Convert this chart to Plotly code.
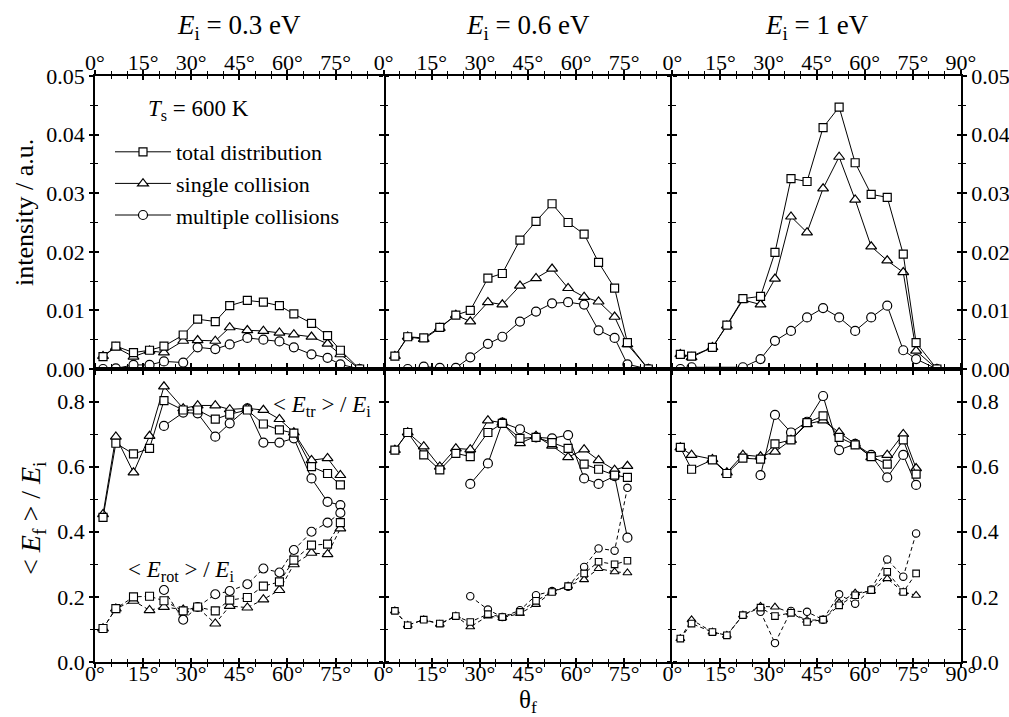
import plotly.graph_objects as go
from plotly.subplots import make_subplots

# ---------------- data ----------------
col_titles = ["<i>E</i><sub>i</sub> = 0.3 eV", "<i>E</i><sub>i</sub> = 0.6 eV", "<i>E</i><sub>i</sub> = 1 eV"]
series_names = ["total distribution", "single collision", "multiple collisions"]

theta_03 = [2.5, 6.5, 12, 17, 21.5, 27.5, 32, 37.5, 42, 47.5, 52.5, 57.5, 62, 67.5, 72.5, 76.5, 82.5]
theta_06 = [3.5, 7.5, 12.5, 17.5, 22.5, 27, 32.5, 37, 42.5, 47.5, 52.5, 57.5, 62.5, 67, 72, 76, 82.5]
theta_1 = [2.5, 6, 12.5, 17, 22, 27.5, 32, 37, 42, 47, 52, 57, 62, 67, 72, 76, 82.5]

# intensity (a.u.)
I_tot_03 = [0.0021, 0.0039, 0.0028, 0.0032, 0.0039, 0.0058, 0.0085, 0.0081, 0.0108, 0.0117, 0.0114, 0.0108, 0.0094, 0.0078, 0.0057, 0.0032, 0.0]
I_single_03 = [0.0022, 0.0037, 0.0021, 0.0031, 0.0028, 0.0048, 0.0049, 0.0048, 0.0071, 0.0066, 0.0065, 0.0062, 0.0059, 0.0055, 0.0043, 0.0025, 0.0]
I_multi_03 = [0.0, 0.0001, 0.0007, 0.0007, 0.0013, 0.0011, 0.0037, 0.0034, 0.0042, 0.0053, 0.0050, 0.0047, 0.0037, 0.0025, 0.0019, 0.0008, 0.0]

I_tot_06 = [0.0022, 0.0055, 0.0053, 0.0071, 0.0092, 0.0100, 0.0155, 0.0163, 0.0220, 0.0252, 0.0282, 0.0250, 0.0230, 0.0182, 0.0138, 0.0045, 0.0]
I_single_06 = [0.0022, 0.0055, 0.0051, 0.0070, 0.0092, 0.0081, 0.0114, 0.0110, 0.0142, 0.0155, 0.0171, 0.0138, 0.0123, 0.0115, 0.0089, 0.0042, 0.0]
I_multi_06 = [None, 0.0, 0.0004, 0.0002, 0.0002, 0.0020, 0.0043, 0.0055, 0.0081, 0.0098, 0.0112, 0.0114, 0.0110, 0.0066, 0.0053, 0.0008, 0.0]

I_tot_1 = [0.0025, 0.0022, 0.0037, 0.0075, 0.0120, 0.0124, 0.0199, 0.0325, 0.0320, 0.0412, 0.0447, 0.0352, 0.0298, 0.0293, 0.0196, 0.0045, 0.0]
I_single_1 = [0.0025, 0.0020, 0.0037, 0.0074, 0.0118, 0.0110, 0.0154, 0.0260, 0.0233, 0.0308, 0.0362, 0.0289, 0.0209, 0.0185, 0.0165, 0.0031, 0.0]
I_multi_1 = [0.0, 0.0003, None, None, 0.0003, 0.0017, 0.0048, 0.0065, 0.0088, 0.0104, 0.0088, 0.0065, 0.0088, 0.0108, 0.0032, 0.0017, 0.0]

# <E_tr>/E_i  (solid lines)
Etr_tot_03 = [0.444, 0.672, 0.639, 0.656, 0.803, 0.774, 0.774, 0.746, 0.761, 0.774, 0.731, 0.713, 0.703, 0.600, 0.579, 0.544, None]
Etr_single_03 = [0.454, 0.692, 0.582, 0.694, 0.846, 0.779, 0.788, 0.788, 0.776, 0.779, 0.774, 0.746, 0.705, 0.620, 0.626, 0.574, None]
Etr_multi_03 = [None, None, None, None, 0.725, 0.766, 0.764, 0.692, 0.733, 0.779, 0.674, 0.674, 0.687, 0.564, 0.492, 0.482, None]

Etr_tot_06 = [0.651, 0.705, 0.636, 0.590, 0.641, 0.631, 0.705, 0.733, 0.687, 0.690, 0.674, 0.656, 0.608, 0.592, 0.574, 0.567, None]
Etr_single_06 = [0.651, 0.705, 0.662, 0.600, 0.656, 0.653, 0.742, 0.735, 0.672, 0.694, 0.664, 0.629, 0.653, 0.620, 0.590, 0.602, None]
Etr_multi_06 = [None, None, None, None, None, 0.547, 0.610, 0.735, 0.715, 0.690, 0.687, 0.697, 0.564, 0.547, 0.571, 0.382, None]

Etr_tot_1 = [0.659, 0.592, 0.621, 0.579, 0.626, 0.623, 0.670, 0.682, 0.735, 0.756, 0.690, 0.667, 0.631, 0.608, 0.682, 0.577, None]
Etr_single_1 = [0.659, 0.636, 0.623, 0.582, 0.636, 0.631, 0.646, 0.682, 0.731, 0.742, 0.705, 0.670, 0.629, 0.636, 0.700, 0.595, None]
Etr_multi_1 = [None, None, None, None, None, 0.574, 0.759, 0.705, 0.738, 0.817, 0.651, 0.670, 0.636, 0.567, 0.636, 0.544, None]

# <E_rot>/E_i  (dashed lines)
Erot_tot_03 = [0.103, 0.164, 0.200, 0.202, 0.188, 0.157, 0.169, 0.157, 0.190, 0.198, 0.233, 0.246, 0.313, 0.359, 0.362, 0.428, None]
Erot_single_03 = [0.103, 0.164, 0.188, 0.159, 0.169, 0.161, 0.167, 0.118, 0.172, 0.167, 0.192, 0.221, 0.300, 0.335, 0.331, 0.410, None]
Erot_multi_03 = [None, None, None, None, 0.221, 0.130, 0.169, 0.208, 0.218, 0.239, 0.287, 0.275, 0.344, 0.400, 0.428, 0.458, None]

Erot_tot_06 = [0.157, 0.113, 0.130, 0.118, 0.141, 0.123, 0.147, 0.138, 0.154, 0.188, 0.215, 0.233, 0.272, 0.308, 0.300, 0.311, None]
Erot_single_06 = [0.157, 0.113, 0.130, 0.116, 0.141, 0.108, 0.141, 0.136, 0.149, 0.177, 0.215, 0.233, 0.253, 0.287, 0.277, 0.274, None]
Erot_multi_06 = [None, None, None, None, None, 0.202, 0.161, 0.138, 0.159, 0.205, 0.218, 0.231, 0.292, 0.349, 0.342, 0.535, None]

Erot_tot_1 = [0.072, 0.118, 0.092, 0.082, 0.144, 0.167, 0.141, 0.151, 0.123, 0.130, 0.174, 0.205, 0.221, 0.277, 0.215, 0.272, None]
Erot_single_1 = [0.072, 0.130, 0.092, 0.082, 0.144, 0.171, 0.169, 0.151, 0.128, 0.130, 0.182, 0.212, 0.218, 0.256, 0.215, 0.205, None]
Erot_multi_1 = [None, None, None, None, None, 0.154, 0.058, 0.157, 0.154, 0.130, 0.208, 0.179, 0.223, 0.315, 0.262, 0.395, None]

x_tick_vals = [0, 15, 30, 45, 60, 75, 90]
x_minor_vals = [5, 10, 20, 25, 35, 40, 50, 55, 65, 70, 80, 85]
yI_tick_vals = [0.0, 0.01, 0.02, 0.03, 0.04, 0.05]
yI_minor_vals = [0.005, 0.015, 0.025, 0.035, 0.045]
yE_tick_vals = [0.0, 0.2, 0.4, 0.6, 0.8]
yE_minor_vals = [0.1, 0.3, 0.5, 0.7]

# ---------------- figure ----------------
W, H = 1009, 717
ML, MR, MT, MB = 95, 48, 76, 55
PW, PH = W - ML - MR, H - MT - MB
FONT = "Liberation Serif, Times New Roman, Times, DejaVu Serif, serif"


def px_x(x):
    return (x - ML) / PW


def px_y(y):
    return 1 - (y - MT) / PH


columns = [
    (theta_03, [I_tot_03, I_single_03, I_multi_03], [Etr_tot_03, Etr_single_03, Etr_multi_03],
     [Erot_tot_03, Erot_single_03, Erot_multi_03]),
    (theta_06, [I_tot_06, I_single_06, I_multi_06], [Etr_tot_06, Etr_single_06, Etr_multi_06],
     [Erot_tot_06, Erot_single_06, Erot_multi_06]),
    (theta_1, [I_tot_1, I_single_1, I_multi_1], [Etr_tot_1, Etr_single_1, Etr_multi_1],
     [Erot_tot_1, Erot_single_1, Erot_multi_1]),
]
symbols = ["square", "triangle-up", "circle"]
sizes = [8, 9.5, 9]
rot_scale = [1.0, 0.82, 0.82]

fig = make_subplots(rows=2, cols=3, horizontal_spacing=0, vertical_spacing=0)

for c, (theta, Is, Etrs, Erots) in enumerate(columns):
    for k in (2, 1, 0):
        mk = dict(symbol=symbols[k], size=sizes[k], color="white", line=dict(color="black", width=1.2))
        fig.add_trace(go.Scatter(x=theta, y=Is[k], mode="lines+markers", name=series_names[k],
                                 legendgroup=series_names[k], showlegend=(c == 0), legendrank=k + 1,
                                 connectgaps=True, line=dict(color="black", width=1), marker=mk,
                                 hoverinfo="skip"), row=1, col=c + 1)
        fig.add_trace(go.Scatter(x=theta, y=Etrs[k], mode="lines+markers", showlegend=False,
                                 connectgaps=True, line=dict(color="black", width=1), marker=mk,
                                 hoverinfo="skip"), row=2, col=c + 1)
        mk2 = dict(symbol=symbols[k], size=sizes[k] * rot_scale[c], color="white",
                   line=dict(color="black", width=1.1))
        fig.add_trace(go.Scatter(x=theta, y=Erots[k], mode="lines+markers", showlegend=False,
                                 connectgaps=True, line=dict(color="black", width=1, dash="4px,3px"),
                                 marker=mk2, hoverinfo="skip"), row=2, col=c + 1)

tick_common = dict(tickcolor="black", tickwidth=1.5, ticklen=4, showgrid=False, zeroline=False)

for r in (1, 2):
    for c in (1, 2, 3):
        n = (r - 1) * 3 + c
        sfx = "" if n == 1 else str(n)
        xtext = [f"{v}°" for v in x_tick_vals]
        if c < 3:
            xtext[-1] = ""
        if r == 1:
            ytv, ymv, ytext, yr = yI_tick_vals, yI_minor_vals, [f"{v:.2f}" for v in yI_tick_vals], [0, 0.05]
        else:
            ytv, ymv, ytext, yr = yE_tick_vals, yE_minor_vals, [f"{v:.1f}" for v in yE_tick_vals], [0, 0.9]
        # main axes: outside ticks + labels
        fig.layout["xaxis" + sfx].update(
            range=[0, 90], tickmode="array", tickvals=x_tick_vals, ticktext=xtext,
            side="top" if r == 1 else "bottom", ticks="outside", mirror="ticks",
            showline=True, linewidth=1.6, linecolor="black",
            ticklabelstandoff=-9 if r == 1 else -13,
            minor=dict(tickmode="array", tickvals=x_minor_vals, ticks="outside", ticklen=3,
                       tickwidth=1.2, tickcolor="black"),
            tickfont=dict(family=FONT, size=22, color="black"), **tick_common)
        fig.layout["yaxis" + sfx].update(
            range=yr, tickmode="array", tickvals=ytv, ticktext=ytext,
            side="right" if c == 3 else "left", showticklabels=(c != 2),
            ticks="outside", mirror="ticks", showline=(c != 2), linewidth=1.6, linecolor="black",
            minor=dict(tickmode="array", tickvals=ymv, ticks="outside", ticklen=3,
                       tickwidth=1.2, tickcolor="black"),
            tickfont=dict(family=FONT, size=22, color="black"), **tick_common)
        # overlay axes: inside ticks (so ticks cross the frame)
        m = n + 6
        fig.add_trace(go.Scatter(x=[None], y=[None], xaxis=f"x{m}", yaxis=f"y{m}",
                                 showlegend=False, hoverinfo="skip"))
        fig.layout[f"xaxis{m}"] = dict(
            overlaying="x" + sfx, anchor=f"y{m}", range=[0, 90], tickmode="array",
            tickvals=x_tick_vals, showticklabels=False, ticks="inside", mirror="ticks",
            side="top" if r == 1 else "bottom", showline=False,
            minor=dict(tickmode="array", tickvals=x_minor_vals, ticks="inside", ticklen=3,
                       tickwidth=1.2, tickcolor="black"), **tick_common)
        fig.layout[f"yaxis{m}"] = dict(
            overlaying="y" + sfx, anchor=f"x{m}", range=yr, tickmode="array", tickvals=ytv,
            showticklabels=False, ticks="inside", mirror="ticks", showline=False,
            side="right" if c == 3 else "left",
            minor=dict(tickmode="array", tickvals=ymv, ticks="inside", ticklen=3,
                       tickwidth=1.2, tickcolor="black"), **tick_common)

annotations = []
col_centers = [239, 528, 817]
for c in range(3):
    annotations.append(dict(text=col_titles[c], x=px_x(col_centers[c]), y=px_y(27), xref="paper",
                            yref="paper", showarrow=False, xanchor="center", yanchor="middle",
                            font=dict(family=FONT, size=27, color="black")))
annotations += [
    dict(text="<i>T</i><sub>s</sub> = 600 K", x=px_x(198), y=px_y(110), font=dict(size=23)),
    dict(text="&lt; <i>E</i><sub>tr</sub> &gt; / <i>E</i><sub>i</sub>", x=px_x(322), y=px_y(406),
         font=dict(size=23)),
    dict(text="&lt; <i>E</i><sub>rot</sub> &gt; / <i>E</i><sub>i</sub>", x=px_x(181), y=px_y(571),
         font=dict(size=23)),
    dict(text="intensity / a.u.", x=px_x(24), y=px_y(213), textangle=-90, font=dict(size=26)),
    dict(text="&lt; <i>E</i><sub>f</sub> &gt; / <i>E</i><sub>i</sub>", x=px_x(32), y=px_y(518),
         textangle=-90, font=dict(size=28)),
    dict(text="θ<sub>f</sub>", x=px_x(528), y=px_y(701), font=dict(size=25)),
]
for a in annotations[3:]:
    a.update(xref="paper", yref="paper", showarrow=False, xanchor="center", yanchor="middle")
    a["font"] = dict(family=FONT, color="black", size=a["font"]["size"])

fig.update_layout(
    width=W, height=H, margin=dict(l=ML, r=MR, t=MT, b=MB, autoexpand=False),
    paper_bgcolor="white", plot_bgcolor="white",
    font=dict(family=FONT, size=22, color="black"),
    annotations=annotations,
    showlegend=True,
    legend=dict(x=px_x(110), y=px_y(131), xanchor="left", yanchor="top", bgcolor="rgba(0,0,0,0)",
                font=dict(family=FONT, size=22, color="black"), traceorder="normal",
                itemwidth=56, tracegroupgap=0),
)

fig.write_html("out.html")
